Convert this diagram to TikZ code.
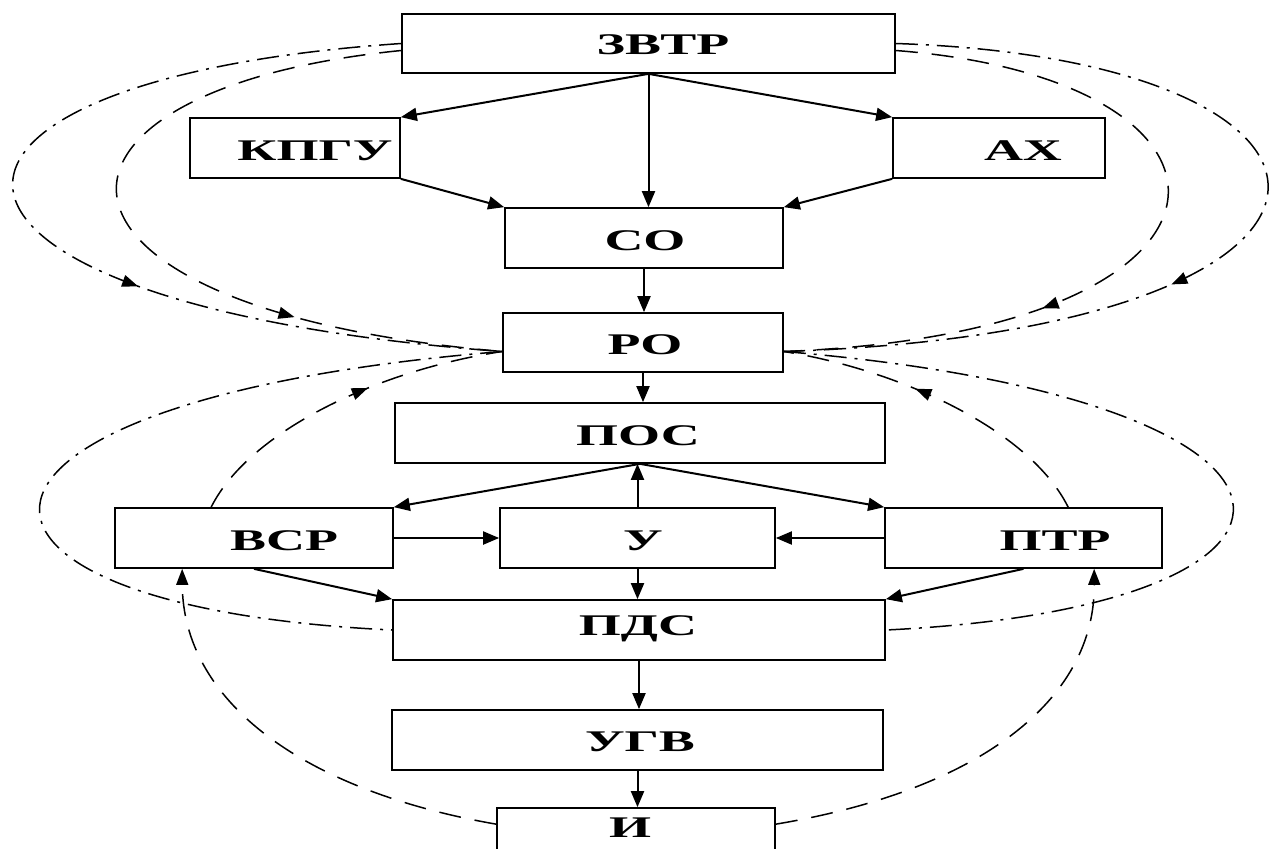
\documentclass[tikz,border=0pt]{standalone}
\usepackage{fontspec}
\setmainfont{Liberation Serif}[FakeStretch=1.8]
\usetikzlibrary{arrows.meta,decorations.markings,calc}
\begin{document}
\begin{tikzpicture}[x=0.5pt,y=-0.5pt,
  box/.style={draw, line width=0.85pt, inner sep=0pt},
  lbl/.style={font=\fontsize{15}{17}\selectfont\bfseries, inner sep=0pt},
  arr/.style={line width=1pt, -{Triangle[length=8pt,width=6.5pt]}},
  dsh/.style={line width=0.75pt, dash pattern=on 11pt off 7pt},
  dshd/.style={line width=0.75pt, dash pattern=on 11pt off 4pt on 1.5pt off 4pt},
  endarr/.style={-{Triangle[length=8pt,width=6pt]}},
  midarr/.style={postaction={decorate}, decoration={markings, mark=at position #1 with {\arrow{Triangle[length=8pt,width=6pt]}}}}
]
\clip (0,0) rectangle (1271,848);
\path[use as bounding box] (0,0) rectangle (1271,848);

% boxes
\node[box, minimum width=246.5pt, minimum height=29.5pt] (zvtr) at (648.5,43.5) {};
\node[box, minimum width=105pt, minimum height=30pt] (kpgu) at (295,148) {};
\node[box, minimum width=106pt, minimum height=30pt] (axh) at (999,148) {};
\node[box, minimum width=139pt, minimum height=30pt] (so) at (644,238) {};
\node[box, minimum width=140pt, minimum height=29.5pt] (ro) at (643,342.5) {};
\node[box, minimum width=245pt, minimum height=30pt] (pos) at (640,433) {};
\node[box, minimum width=139pt, minimum height=30pt] (vsr) at (254,538) {};
\node[box, minimum width=137.5pt, minimum height=30pt] (u) at (637.5,538) {};
\node[box, minimum width=138.5pt, minimum height=30pt] (ptr) at (1023.5,538) {};
\node[box, minimum width=246pt, minimum height=30pt] (pds) at (639,630) {};
\node[box, minimum width=245.5pt, minimum height=30pt] (ugv) at (637.5,740) {};
\node[box, minimum width=139pt, minimum height=32pt] (ii) at (636,840) {};

% labels
\node[lbl] (tzvtr) at (663,45) {ЗВТР};
\node[lbl] (tkpgu) at (315,151) {КПГУ};
\node[lbl] (taxh) at (1023,151) {АХ};
\node[lbl] (tso) at (645,241) {СО};
\node[lbl] (tro) at (645,345) {РО};
\node[lbl] (tpos) at (638,436) {ПОС};
\node[lbl] (tvsr) at (284,541) {ВСР};
\node[lbl] (tu) at (643,541) {У};
\node[lbl] (tptr) at (1055,541) {ПТР};
\node[lbl] (tpds) at (638,629) {ПДС};
\node[lbl] (tugv) at (640,742) {УГВ};
\node[lbl] (tii) at (630,828) {И};

% solid arrows
\draw[arr] (zvtr.south) -- (kpgu.north east);
\draw[arr] (zvtr.south) -- (axh.north west);
\draw[arr] (zvtr.south) -- (zvtr.south |- so.north);
\draw[arr] (kpgu.south east) -- (so.north west);
\draw[arr] (axh.south west) -- (so.north east);
\draw[arr] (so.south) -- (so.south |- ro.north);
\draw[arr] (ro.south) -- (ro.south |- pos.north);
\draw[arr] (pos.south) -- (vsr.north east);
\draw[arr] (pos.south) -- (ptr.north west);
\draw[arr] (u.north) -- (u.north |- pos.south);
\draw[arr] (vsr.east |- u.west) -- (u.west);
\draw[arr] (ptr.west |- u.east) -- (u.east);
\draw[arr] (u.south) -- (u.south |- pds.north);
\draw[arr] (vsr.south) -- (pds.north west);
\draw[arr] (ptr.south) -- (pds.north east);
\draw[arr] (pds.south) -- (pds.south |- ugv.north);
\draw[arr] (ugv.south) -- (ugv.south |- ii.north);

% connection points
\coordinate (zL1) at ($(zvtr.west)+(0,0)$);
\coordinate (zL2) at ($(zvtr.west)+(0,7)$);
\coordinate (zR1) at ($(zvtr.east)+(0,0)$);
\coordinate (zR2) at ($(zvtr.east)+(0,7)$);
\coordinate (roL) at ($(ro.west)+(0,9)$);
\coordinate (roR) at ($(ro.east)+(0,9)$);
\coordinate (vsrT) at ($(vsr.north west)+(97,0)$);
\coordinate (vsrB) at ($(vsr.south west)+(68,0)$);
\coordinate (ptrT) at ($(ptr.north west)+(184,0)$);
\coordinate (ptrB) at ($(ptr.south west)+(210,0)$);
\coordinate (iiL) at ($(ii.north west)+(0,17)$);
\coordinate (iiR) at ($(ii.north east)+(0,17)$);

% upper loops
\draw[dshd, midarr=0.62] (zL1) .. controls (-135,80) and (-130,304) .. (roL);
\draw[dsh, midarr=0.73] (zL2) .. controls (6,90) and (6,309) .. (roL);
\draw[dshd, midarr=0.59] (zR1) .. controls (1400,60) and (1420,330) .. (roR);
\draw[dsh, midarr=0.66] (zR2) .. controls (1276,80) and (1276,332) .. (roR);

% lower loops
\draw[dshd] (roL) .. controls (-95,400) and (-95,607) .. (pds.west);
\draw[dshd] (roR) .. controls (1365,400) and (1365,607) .. (pds.east);
\draw[dsh, midarr=0.59] (vsrT) .. controls (250,430) and (380,370) .. (roL);
\draw[dsh, midarr=0.59] (ptrT) .. controls (1030,430) and (900,370) .. (roR);

% bottom loops
\draw[dsh, endarr] (iiL) .. controls (300,790) and (183,700) .. (vsrB);
\draw[dsh, endarr] (iiR) .. controls (980,790) and (1095,700) .. (ptrB);
\end{tikzpicture}
\end{document}
